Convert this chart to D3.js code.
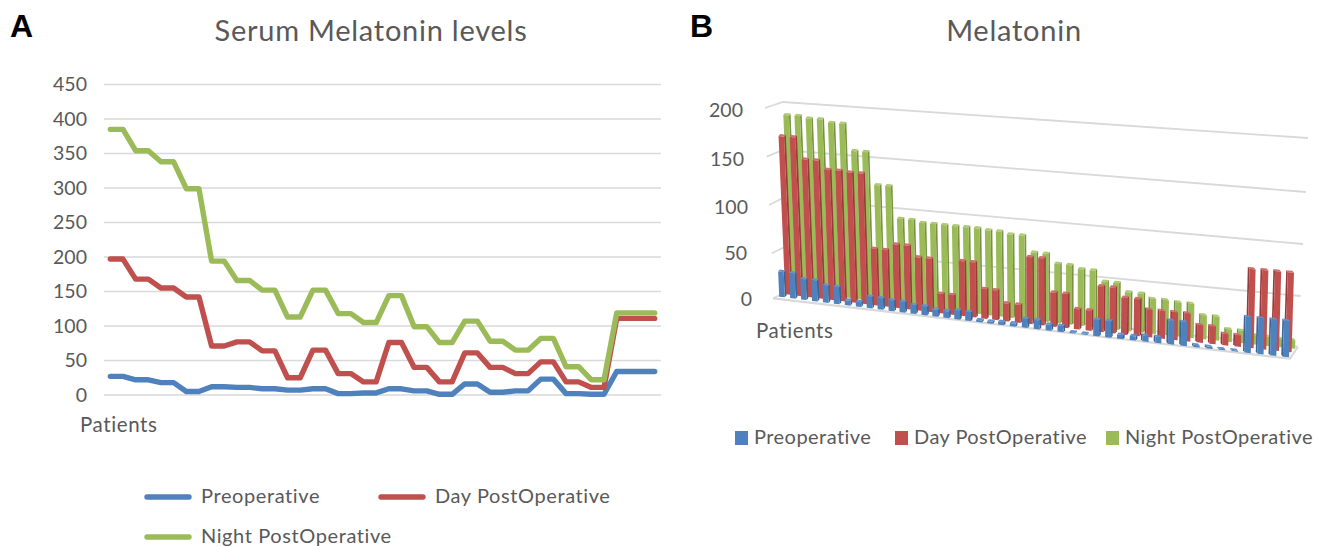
<!DOCTYPE html>
<html>
<head>
<meta charset="utf-8">
<script src="https://cdn.jsdelivr.net/npm/d3@7"></script>
<style>
  html, body { margin: 0; background: #fff; }
  svg { display: block; }
  text { font-family: Lato, "Open Sans", sans-serif; fill: #595959; }
  .panel { font-family: "Liberation Sans", Arial, sans-serif; font-weight: bold; font-size: 32px; fill: #000; }
</style>
</head>
<body>
<svg id="chart" width="1319" height="546">
  <defs><filter id="soft" x="-5%" y="-5%" width="110%" height="110%"><feGaussianBlur stdDeviation="0.45"/></filter></defs>
</svg>
<script>
// panel A values, each patient is drawn twice in the source sheet
const preop = [27, 27, 22, 22, 18, 18, 5, 5, 12, 12, 11, 11, 9, 9, 7, 7, 9, 9, 2, 2, 3, 3, 9, 9, 6, 6, 1, 1, 16, 16, 4, 4, 6, 6, 23, 23, 2, 2, 1, 1, 34, 34, 34, 34];
const dayPost = [197, 197, 168, 168, 155, 155, 142, 142, 71, 71, 77, 77, 64, 64, 25, 25, 65, 65, 31, 31, 19, 19, 76, 76, 40, 40, 19, 19, 61, 61, 40, 40, 31, 31, 48, 48, 19, 19, 11, 11, 111, 111, 111, 111];
const nightPost = [385, 385, 354, 354, 338, 338, 299, 299, 194, 194, 166, 166, 152, 152, 113, 113, 152, 152, 118, 118, 105, 105, 144, 144, 99, 99, 76, 76, 107, 107, 78, 78, 65, 65, 82, 82, 41, 41, 22, 22, 119, 119, 119, 119];

// panel B values
const preopB = preop;
const dayPostB = [170, 170, 147, 147, 138, 138, 137, 137, 59, 59, 66, 66, 55, 55, 20, 20, 56, 56, 30, 30, 18, 18, 67, 67, 34, 34, 20, 20, 45, 45, 36, 36, 27, 27, 27, 27, 17, 17, 11, 11, 75, 75, 75, 75];
const nightPostB = [189, 189, 187, 187, 184, 184, 156, 156, 122, 122, 89, 89, 87, 87, 87, 87, 87, 87, 86, 86, 84, 84, 68, 68, 59, 59, 56, 56, 46, 46, 38, 38, 34, 34, 33, 33, 23, 23, 12, 12, 9, 9, 8, 8];

const seriesNames = ['Preoperative', 'Day PostOperative', 'Night PostOperative'];
const seriesColors = ['#4f81bd', '#c0504d', '#9bbb59'];
const sideColors = ['#3a6496', '#963a38', '#76913f'];
const topColors = ['#6592c9', '#cf6f6c', '#adc973'];
const ticksA = [0, 50, 100, 150, 200, 250, 300, 350, 400, 450];
const ticksB = [0, 50, 100, 150, 200];

const svg = d3.select('#chart');
const indices = d3.range(preop.length);

// ---- panel A
const xA = d3.scalePoint().domain(indices).range([104, 661]).padding(0.5);
const yA = d3.scaleLinear().domain([0, 450]).range([395, 84.5]);

const gA = svg.append('g');
gA.append('g')
    .selectAll('line')
    .data(ticksA)
    .enter()
    .append('line')
        .attr('x1', 104)
        .attr('x2', 661)
        .attr('y1', d => yA(d))
        .attr('y2', d => yA(d))
        .attr('stroke', '#d9d9d9')
        .attr('stroke-width', 1.6);

const axisA = gA.append('g')
    .attr('transform', 'translate(87,0)')
    .call(d3.axisLeft(yA).tickValues(ticksA).tickSize(0).tickPadding(0));
axisA.select('.domain').remove();
axisA.selectAll('text').style('font-size', '19.5px').style('font-family', 'Lato').attr('fill', '#595959');

const line = d3.line().x((d, i) => xA(i)).y(d => yA(d));
[preop, dayPost, nightPost].forEach(function (values, s) {
    gA.append('path')
        .datum(values)
        .attr('d', line)
        .attr('fill', 'none')
        .attr('stroke', seriesColors[s])
        .attr('stroke-width', 5.4)
        .attr('stroke-linejoin', 'round')
        .attr('stroke-linecap', 'round');
});

gA.append('text').attr('x', 371).attr('y', 41).attr('text-anchor', 'middle')
    .style('font-size', '29px').style('letter-spacing', '0.75px').text('Serum Melatonin levels');
gA.append('text').attr('x', 80).attr('y', 432).style('font-size', '20.5px').style('letter-spacing', '0.6px').text('Patients');

const legendA = [[147, 497, 201], [381, 497, 435], [147, 537, 201]];
legendA.forEach(function (p, s) {
    gA.append('line')
        .attr('x1', p[0]).attr('x2', p[0] + 42)
        .attr('y1', p[1]).attr('y2', p[1])
        .attr('stroke', seriesColors[s])
        .attr('stroke-width', 5.4)
        .attr('stroke-linecap', 'round');
    gA.append('text').attr('x', p[2]).attr('y', p[1] + 6)
        .style('font-size', '20px').style('letter-spacing', '0.6px').text(seriesNames[s]);
});

// ---- panel B: fake 3d, rows front to back with perspective
const rowX = [
    d3.scaleLinear().domain([0, 20, 30, 43]).range([782, 1001, 1120, 1286]),
    d3.scaleLinear().domain([0, 20, 30, 43]).range([788, 1006, 1124, 1288.5]),
    d3.scaleLinear().domain([0, 20, 30, 43]).range([793.5, 1010.5, 1127.5, 1292])
];
const rowY = [
    d3.scaleLinear().domain([0, 43]).range([297, 357]),
    d3.scaleLinear().domain([0, 43]).range([294.5, 352]),
    d3.scaleLinear().domain([0, 43]).range([291, 348.5])
];
const unit = d3.scaleLinear().domain([0, 43]).range([0.93, 1.06]);   // px per value unit
const lean = d3.scaleLinear().domain([0, 43]).range([-0.042, 0.03]); // verticals converge
const barW = d3.scaleLinear().domain([0, 43]).range([5.6, 6.2]);

const gB = svg.append('g');

// walls, corners
const backLeftX = d3.scaleLinear().domain(ticksB).range([787, 785, 783, 783, 783]);
const backLeftY = d3.scaleLinear().domain(ticksB).range([292, 247, 198, 150, 102]);
const backRightX = d3.scaleLinear().domain(ticksB).range([1298, 1300.7, 1303, 1306, 1308]);
const backRightY = d3.scaleLinear().domain(ticksB).range([346.7, 296, 244, 192, 138]);
const sideX = d3.scaleLinear().domain(ticksB).range([773, 771.7, 769, 766.7, 765]);
const sideY = d3.scaleLinear().domain(ticksB).range([298.3, 253.3, 205, 156.7, 108]);
const labelX = d3.scaleLinear().domain(ticksB).range([752, 747, 748, 744, 743]);
const labelY = d3.scaleLinear().domain(ticksB).range([299, 253, 206.7, 159, 110]);

const wall = d3.line();
gB.append('g')
    .selectAll('path')
    .data(ticksB)
    .enter()
    .append('path')
        .attr('d', d => wall([[sideX(d), sideY(d)], [backLeftX(d), backLeftY(d)], [backRightX(d), backRightY(d)]]))
        .attr('fill', 'none')
        .attr('stroke', '#d9d9d9')
        .attr('stroke-width', 1.8);
gB.append('path')
    .attr('d', wall([[sideX(0), sideY(0)], [1290, 358.7], [backRightX(0), backRightY(0)]]))
    .attr('fill', 'none')
    .attr('stroke', '#d9d9d9')
    .attr('stroke-width', 2.2);

gB.append('g')
    .selectAll('text')
    .data(ticksB)
    .enter()
    .append('text')
        .attr('x', d => labelX(d))
        .attr('y', d => labelY(d) + 7)
        .attr('text-anchor', 'end')
        .style('font-size', '19.5px')
        .text(d => d);

function barFaces(s, i, v) {
    const h = v * unit(i);
    const bx = rowX[s](i), by = rowY[s](i);
    const tx = bx + lean(i) * h, ty = by - h;
    const w = barW(i) / 2;
    const slope = 0.11;
    const depth = 2;
    // side strip sits right of the front on the left part, left of it past the middle
    const sw = i < 32 ? 1.6 : -1.6;
    const edge = i < 32 ? w : -w;
    return {
        front: [[tx - w, ty - slope * w], [tx + w, ty + slope * w], [bx + w, by + slope * w], [bx - w, by - slope * w]],
        side: [[tx + edge, ty + slope * edge], [tx + edge + sw, ty + slope * edge - depth], [bx + edge + sw, by + slope * edge - depth], [bx + edge, by + slope * edge]],
        top: [[tx - w, ty - slope * w], [tx + w, ty + slope * w], [tx + w + sw, ty + slope * w - depth], [tx - w + sw, ty - slope * w - depth]]
    };
}

const barLayer = gB.append('g').attr('filter', 'url(#soft)');
[nightPostB, dayPostB, preopB].forEach(function (values, k) {
    const s = 2 - k;
    const bars = barLayer.append('g').selectAll('g').data(values).enter().append('g');
    bars.append('path').attr('d', (d, i) => wall(barFaces(s, i, d).side) + 'Z').attr('fill', sideColors[s]);
    bars.append('path').attr('d', (d, i) => wall(barFaces(s, i, d).top) + 'Z').attr('fill', topColors[s]);
    bars.append('path').attr('d', (d, i) => wall(barFaces(s, i, d).front) + 'Z').attr('fill', seriesColors[s]);
});

gB.append('text').attr('x', 1014).attr('y', 41).attr('text-anchor', 'middle')
    .style('font-size', '29px').style('letter-spacing', '0.75px').text('Melatonin');
gB.append('text').attr('x', 756).attr('y', 338).style('font-size', '20.5px').style('letter-spacing', '0.6px').text('Patients');

const legendB = [[735, 754], [895, 914], [1106, 1125]];
legendB.forEach(function (p, s) {
    gB.append('rect').attr('x', p[0]).attr('y', 431).attr('width', 13).attr('height', 14).attr('fill', seriesColors[s]);
    gB.append('text').attr('x', p[1]).attr('y', 444)
        .style('font-size', '20px').style('letter-spacing', '0.45px').text(seriesNames[s]);
});

// ---- panel letters
svg.append('text').attr('class', 'panel').attr('x', 10).attr('y', 37).text('A');
svg.append('text').attr('class', 'panel').attr('x', 690).attr('y', 37).text('B');
</script>
</body>
</html>
